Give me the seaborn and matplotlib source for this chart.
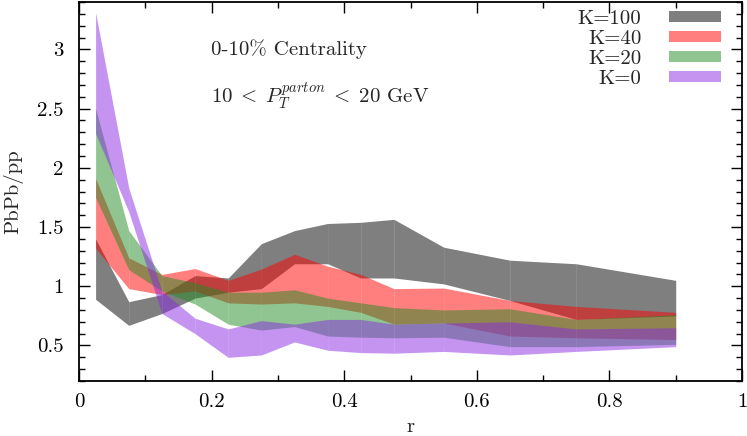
import matplotlib
matplotlib.use("Agg")
import matplotlib.pyplot as plt
import seaborn as sns
from matplotlib.ticker import MultipleLocator, FormatStrFormatter

# jet-shape ratio bands
r = [0.025, 0.075, 0.125, 0.175, 0.225, 0.275, 0.325, 0.375, 0.425, 0.475, 0.55, 0.65, 0.75, 0.9]

k100_lo = [0.89, 0.67, 0.77, 0.90, 0.95, 0.98, 1.19, 1.19, 1.07, 1.07, 1.02, 0.88, 0.72, 0.75]
k100_hi = [1.40, 0.87, 0.93, 1.09, 1.07, 1.36, 1.47, 1.53, 1.54, 1.565, 1.33, 1.22, 1.19, 1.05]

k40_lo = [1.32, 0.98, 0.93, 0.96, 0.86, 0.85, 0.86, 0.83, 0.78, 0.68, 0.69, 0.58, 0.565, 0.55]
k40_hi = [1.91, 1.24, 1.10, 1.15, 1.05, 1.145, 1.27, 1.17, 1.10, 0.98, 0.985, 0.88, 0.83, 0.78]

k20_lo = [1.75, 1.14, 0.96, 0.85, 0.68, 0.63, 0.66, 0.58, 0.57, 0.565, 0.57, 0.49, 0.49, 0.51]
k20_hi = [2.50, 1.47, 1.09, 1.03, 0.95, 0.95, 0.97, 0.90, 0.86, 0.82, 0.80, 0.81, 0.72, 0.76]

k0_lo = [2.29, 1.63, 0.77, 0.60, 0.40, 0.42, 0.53, 0.46, 0.44, 0.435, 0.45, 0.42, 0.45, 0.49]
k0_hi = [3.31, 1.83, 0.96, 0.73, 0.64, 0.71, 0.68, 0.72, 0.72, 0.68, 0.69, 0.70, 0.64, 0.65]

labels = ["K=100", "K=40", "K=20", "K=0"]
colors = ["black", "red", "forestgreen", "blueviolet"]

sns.set_theme(style="ticks")
plt.rcParams['font.family'] = ['cmr10', 'DejaVu Serif']
plt.rcParams['mathtext.fontset'] = 'cm'
plt.rcParams['axes.formatter.use_mathtext'] = True

FS = 15

fig = plt.figure(figsize=(7.47, 4.36), dpi=100)
ax = fig.add_axes([0.1058, 0.1261, 0.8875, 0.8693])

bands = [(k100_lo, k100_hi), (k40_lo, k40_hi), (k20_lo, k20_hi), (k0_lo, k0_hi)]
for (lo, hi), lab, col in zip(bands, labels, colors):
    # one polygon per segment, like the original's seams
    for i in range(len(r) - 1):
        ax.fill_between(r[i:i + 2], lo[i:i + 2], hi[i:i + 2], color=col, alpha=0.5,
                        linewidth=0, label=lab if i == 0 else None)

ax.set_xlim(0, 1)
ax.set_ylim(0.2, 3.4)
ax.xaxis.set_major_locator(MultipleLocator(0.2))
ax.xaxis.set_minor_locator(MultipleLocator(0.1))
ax.yaxis.set_major_locator(MultipleLocator(0.5))
ax.yaxis.set_minor_locator(MultipleLocator(0.1))
ax.xaxis.set_major_formatter(FormatStrFormatter('%g'))
ax.yaxis.set_major_formatter(FormatStrFormatter('%g'))
ax.tick_params(which='both', direction='in', top=True, right=True, colors='black',
               labelsize=FS, width=1.0)
ax.tick_params(axis='x', which='major', length=8, pad=9)
ax.tick_params(axis='y', which='major', length=8, pad=11)
ax.tick_params(which='minor', length=4)
for s in ax.spines.values():
    s.set_linewidth(1.3)
    s.set_color('black')

ax.set_xlabel("r", fontsize=FS, labelpad=5)
ax.set_ylabel("PbPb/pp", fontsize=FS, labelpad=10)

ax.text(0.199, 3.0, "0-10% Centrality", fontsize=FS, va='center')
ax.text(0.199, 2.6, r"$10\;<\;P_T^{parton}\;<\;20$ GeV", fontsize=FS, va='center')

ax.legend(loc='upper right', bbox_to_anchor=(0.968, 0.979), frameon=False,
          markerfirst=False, fontsize=FS, handlelength=2.5, handleheight=0.48,
          labelspacing=0.1, borderaxespad=0, borderpad=0, handletextpad=1.3)

fig.savefig("out.png", dpi=100)
